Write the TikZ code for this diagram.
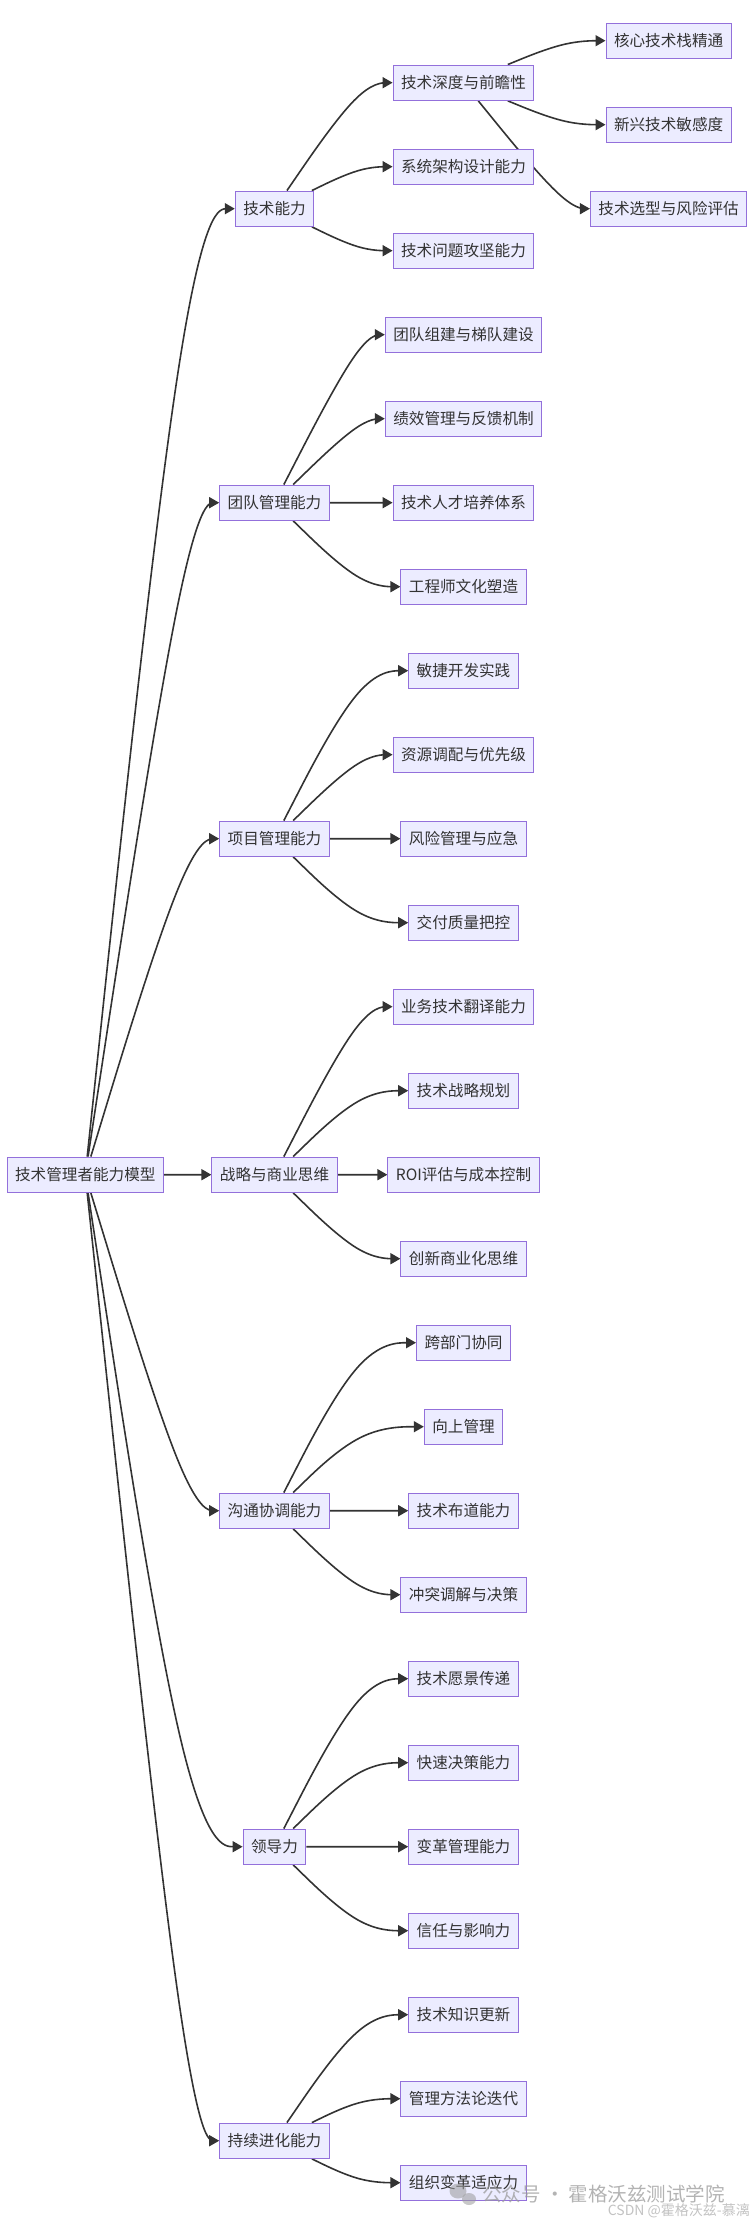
\documentclass[tikz,border=0pt]{standalone}
\usepackage{fontspec}
\newfontfamily\cjk{Noto Sans CJK SC}
\usetikzlibrary{arrows.meta,calc}
\pgfdeclarelayer{edgelayer}
\pgfsetlayers{edgelayer,main}
\definecolor{nodefill}{HTML}{ECECFF}
\definecolor{nodeline}{HTML}{9370DB}
\definecolor{txt}{HTML}{333333}
\definecolor{linkc}{HTML}{333333}
\definecolor{wm}{HTML}{9A9A9A}
\tikzset{
  box/.style={draw=nodeline, fill=nodefill, line width=1pt, text=txt,
    font=\cjk\fontsize{15.6}{18}\selectfont, minimum height=35.3pt,
    inner xsep=8pt, inner ysep=0pt},
  link/.style={draw=linkc, line width=1.6pt, -{Triangle[length=10pt,width=11pt]}},
  wmtext/.style={text=wm, opacity=0.75, inner sep=0pt},
}
% basis-spline edge: source node, label-rank x coordinate, target node
\newcommand\mmedge[3]{%
  \coordinate (mP1) at (#2 |- #3.west);
  \path (#1) -- (mP1) coordinate[pos=0] (mP0);
  \coordinate (mP2) at (#3.west);
  \draw[link] (mP0) -- ($(mP0)!0.166667!(mP1)$)
    .. controls ($(mP0)!0.333333!(mP1)$) and ($(mP0)!0.666667!(mP1)$) ..
    ($0.166667*(mP0)+0.666667*(mP1)+0.166667*(mP2)$)
    .. controls ($(mP1)!0.333333!(mP2)$) and ($(mP1)!0.666667!(mP2)$) ..
    ($(mP1)!0.833333!(mP2)$) -- (mP2);
}
\begin{document}
\begin{tikzpicture}[x=1pt,y=-1pt]
\useasboundingbox (0,0) rectangle (754,2224);
\coordinate (LA) at (187.8,0);
\coordinate (LB) at (361,0);
\coordinate (LC) at (566,0);
% root
\node[box] (root) at (85.3,{82.7+84*13}) {技术管理者能力模型};
% level 1
\node[box] (t1) at (274.5,{82.7+84*1.5}) {技术能力};
\node[box] (t2) at (274.5,{82.7+84*5}) {团队管理能力};
\node[box] (t3) at (274.5,{82.7+84*9}) {项目管理能力};
\node[box] (t4) at (274.5,{82.7+84*13}) {战略与商业思维};
\node[box] (t5) at (274.5,{82.7+84*17}) {沟通协调能力};
\node[box] (t6) at (274.5,{82.7+84*21}) {领导力};
\node[box] (t7) at (274.5,{82.7+84*24.5}) {持续进化能力};
% level 2
\foreach \k/\t in {0/技术深度与前瞻性,1/系统架构设计能力,2/技术问题攻坚能力,
  3/团队组建与梯队建设,4/绩效管理与反馈机制,5/技术人才培养体系,6/工程师文化塑造,
  7/敏捷开发实践,8/资源调配与优先级,9/风险管理与应急,10/交付质量把控,
  11/业务技术翻译能力,12/技术战略规划,13/ROI评估与成本控制,14/创新商业化思维,
  15/跨部门协同,16/向上管理,17/技术布道能力,18/冲突调解与决策,
  19/技术愿景传递,20/快速决策能力,21/变革管理能力,22/信任与影响力,
  23/技术知识更新,24/管理方法论迭代,25/组织变革适应力}
  \node[box] (a\k) at (463.5,{82.7+84*\k}) {\t};
% level 3
\node[box] (c0) at (668.6,{82.7-42}) {核心技术栈精通};
\node[box] (c1) at (668.6,{82.7+42}) {新兴技术敏感度};
\node[box] (c2) at (668.6,{82.7+126}) {技术选型与风险评估};
% edges
\begin{pgfonlayer}{edgelayer}
\foreach \n in {1,...,7} { \mmedge{root}{LA}{t\n} }
\foreach \n in {0,1,2} { \mmedge{t1}{LB}{a\n} }
\foreach \n in {3,...,6} { \mmedge{t2}{LB}{a\n} }
\foreach \n in {7,...,10} { \mmedge{t3}{LB}{a\n} }
\foreach \n in {11,...,14} { \mmedge{t4}{LB}{a\n} }
\foreach \n in {15,...,18} { \mmedge{t5}{LB}{a\n} }
\foreach \n in {19,...,22} { \mmedge{t6}{LB}{a\n} }
\foreach \n in {23,24,25} { \mmedge{t7}{LB}{a\n} }
\foreach \n in {0,1,2} { \mmedge{a0}{LC}{c\n} }
\end{pgfonlayer}
% watermark
\fill[wm, opacity=0.55] (458,2191) ellipse [x radius=8.5, y radius=7.5];
\fill[wm, opacity=0.55] (469,2199) ellipse [x radius=7, y radius=6];
\node[wmtext, anchor=west, font=\cjk\fontsize{19.5}{22}\selectfont] (wm1) at (482,2194) {公众号 · 霍格沃兹测试学院};
\node[wmtext, anchor=east, font=\cjk\fontsize{14}{16}\selectfont, opacity=0.6] (wm2) at (750,2210.5) {CSDN @霍格沃兹-慕漓};
\end{tikzpicture}
\end{document}
